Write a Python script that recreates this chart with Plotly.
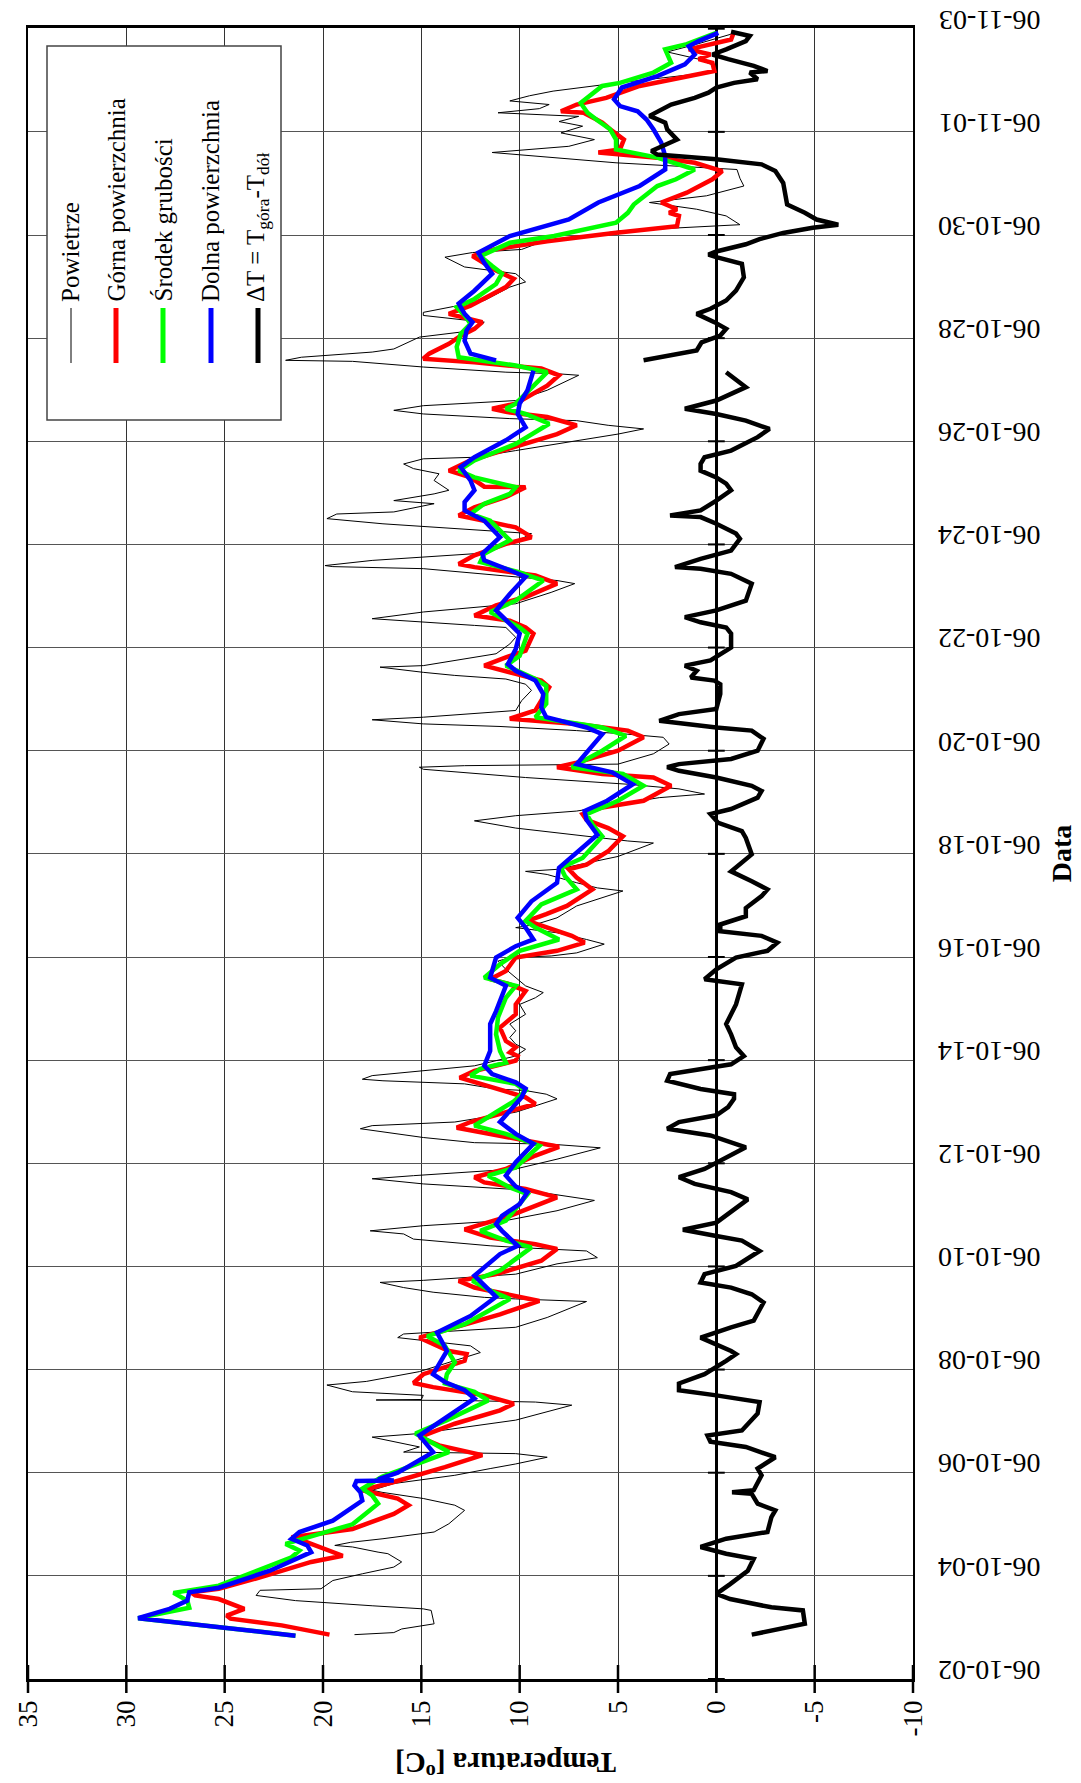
import pandas as pd
import plotly.graph_objects as go

BASE = pd.Timestamp("2006-10-02")
START_DATE = "2006-10-02"
END_DATE = "2006-11-03"

# ---- data (day offset from 2006-10-02 00:00, temperature in C) ----
air_days = [0.86, 0.9, 0.97, 1.07, 1.33, 1.36, 1.42, 1.52, 1.62, 1.72, 1.75, 1.91, 2.04, 2.17, 2.27, 2.43, 2.46,
            2.56, 2.59, 2.65, 2.72, 2.85, 3.01, 3.27, 3.37, 3.5, 3.62, 3.66, 3.79, 3.95, 4.08, 4.17, 4.3, 4.37,
            4.4, 4.5, 4.69, 4.76, 5.02, 5.21, 5.31, 5.37, 5.4, 5.41, 5.42, 5.5, 5.57, 5.7, 5.77, 5.96, 6.3, 6.33,
            6.46, 6.56, 6.62, 6.69, 6.82, 7.01, 7.32, 7.37, 7.4, 7.5, 7.59, 7.69, 7.73, 7.85, 8.05, 8.17, 8.3,
            8.37, 8.4, 8.53, 8.63, 8.69, 8.79, 8.89, 9.08, 9.28, 9.48, 9.6, 9.7, 9.76, 9.89, 10.08, 10.3, 10.37,
            10.4, 10.5, 10.67, 10.73, 10.8, 10.99, 11.25, 11.34, 11.41, 11.44, 11.54, 11.6, 11.63, 11.7, 11.79,
            11.89, 11.99, 12.08, 12.21, 12.31, 12.44, 12.57, 12.7, 12.89, 13.08, 13.21, 13.31, 13.44, 13.76,
            13.92, 13.99, 14.02, 14.08, 14.25, 14.34, 14.47, 14.57, 14.63, 14.76, 14.99, 15.28, 15.34, 15.44,
            15.6, 15.66, 15.7, 15.95, 16.21, 16.25, 16.5, 16.64, 16.74, 16.83, 17.0, 17.09, 17.16, 17.26, 17.35,
            17.48, 17.64, 17.68, 17.71, 17.74, 17.94, 18.13, 18.26, 18.32, 18.39, 18.47, 18.52, 18.6, 18.65,
            18.78, 18.97, 19.17, 19.29, 19.39, 19.46, 19.52, 19.62, 19.65, 19.88, 20.07, 20.2, 20.39, 20.43,
            20.49, 20.56, 20.69, 20.85, 21.07, 21.24, 21.3, 21.37, 21.53, 21.57, 21.59, 21.69, 21.82, 22.05,
            22.21, 22.4, 22.5, 22.59, 22.63, 22.79, 22.85, 22.98, 23.05, 23.24, 23.37, 23.47, 23.56, 23.66,
            23.69, 23.82, 23.95, 24.14, 24.24, 24.31, 24.4, 24.44, 24.53, 24.6, 24.69, 24.79, 24.99, 25.28,
            25.31, 25.34, 25.44, 25.55, 25.57, 25.63, 25.73, 25.79, 26.02, 26.15, 26.31, 26.44, 26.5, 26.73,
            26.99, 27.09, 27.25, 27.38, 27.57, 27.66, 27.72, 27.85, 28.08, 28.2, 28.37, 28.5, 28.63, 28.76,
            28.95, 29.1, 29.27, 29.4, 29.6, 29.63, 29.72, 29.85, 29.98, 30.11, 30.2, 30.3, 30.37, 30.45, 30.53,
            30.6, 30.7, 30.79, 30.95, 31.1, 31.18, 31.3, 31.41, 31.55, 31.7, 31.9]
air_temp = [18.4, 16.4, 16.0, 14.35, 14.5, 14.9, 17.5, 21.4, 23.4, 23.2, 20.1, 19.5, 18.0, 16.4, 16.0, 16.7, 17.2,
            18.5, 19.4, 18.6, 16.95, 14.35, 13.6, 12.8, 13.3, 14.9, 17.0, 17.5, 16.4, 13.3, 11.5, 10.2, 8.6, 10.2,
            15.9, 15.1, 17.5, 15.1, 10.2, 8.4, 7.35, 9.2, 12.9, 17.3, 15.0, 14.9, 18.5, 19.8, 17.8, 15.1, 12.3, 12.0,
            12.5, 14.9, 16.2, 15.9, 10.2, 8.6, 6.6, 10.2, 11.8, 14.4, 15.9, 17.1, 14.9, 10.2, 8.1, 6.05, 6.6,
            10.2, 11.5, 15.4, 15.9, 17.6, 14.9, 10.7, 8.1, 6.2, 9.7, 14.9, 17.5, 15.4, 10.2, 8.1, 5.9, 8.4,
            12.3, 14.9, 18.1, 17.5, 13.3, 10.2, 8.1, 8.65, 9.7, 11.2, 12.8, 16.95, 18.0, 17.5, 14.9,
            12.3, 11.2, 10.2, 9.7, 10.2, 10.5, 10.2, 10.5, 9.7, 10.0, 9.2, 8.8, 9.7, 10.7,
            11.1, 10.5, 8.4, 7.1, 5.7, 6.6, 8.1, 10.2, 9.2, 8.1, 7.1, 4.75, 6.05, 7.1,
            8.6, 9.7, 8.1, 5.0, 3.2, 4.5, 10.2, 12.3, 10.2, 7.1, 4.5, 2.9, 0.6, 1.9, 4.5,
            9.7, 14.9, 15.1, 12.8, 5.0, 3.2, 2.4, 2.7, 4.5, 7.1, 11.0, 14.9, 17.5, 14.9,
            10.2, 9.9, 9.4, 9.7, 10.7, 13.3, 14.9, 17.1, 14.9, 11.2, 10.5, 10.2, 10.7, 12.3,
            14.9, 17.5, 14.9, 10.2, 8.4, 7.2, 8.1, 10.2, 14.9, 19.5, 19.9, 17.5, 12.3, 10.2,
            9.4, 16.95, 19.8, 19.3, 16.4, 14.35, 16.4, 14.35, 13.6, 14.35, 14.1, 15.4, 15.9, 14.9,
            12.3, 10.2, 8.1, 5.0, 3.7, 5.5, 7.1, 10.5, 14.9, 16.4, 14.9, 10.2, 8.6, 7.0,
            8.1, 10.7, 14.9, 18.5, 21.9, 21.1, 17.5, 16.4, 15.1, 12.3, 11.8, 14.9, 14.9, 11.8,
            10.5, 9.7, 10.2, 12.8, 13.8, 12.4, 9.9, 9.0, 4.9, -1.2, -0.5, 1.0, 3.4, 0.5,
            -1.4, -1.2, -1.05, 5.1, 11.4, 10.5, 7.5, 6.2, 7.9, 6.8, 8.0, 7.0, 11.1, 9.0, 8.5,
            10.5, 9.5, 8.3, 5.0, 1.5, 0.1, 0.2, 0.9, 2.5, 1.0, -0.8]

top_days = [0.86, 1.04, 1.17, 1.23, 1.36, 1.46, 1.55, 1.62, 1.68, 1.75, 1.97, 2.27, 2.39, 2.65, 2.75, 2.91, 3.2,
            3.37, 3.5, 3.66, 3.82, 4.11, 4.34, 4.53, 4.69, 4.95, 5.21, 5.34, 5.5, 5.66, 5.74, 5.91, 6.17, 6.3,
            6.36, 6.62, 6.82, 7.07, 7.33, 7.43, 7.59, 7.72, 7.85, 8.11, 8.34, 8.43, 8.56, 8.72, 8.98, 9.34, 9.5,
            9.63, 9.73, 9.89, 10.15, 10.32, 10.44, 10.57, 10.69, 10.8, 11.02, 11.15, 11.28, 11.44, 11.66, 11.79,
            11.99, 12.08, 12.15, 12.25, 12.37, 12.63, 12.89, 13.08, 13.34, 13.47, 13.57, 13.73, 13.99, 14.12,
            14.28, 14.41, 14.63, 14.7, 14.83, 14.99, 15.31, 15.54, 15.7, 15.79, 16.05, 16.34, 16.5, 16.66,
            16.77, 16.9, 17.03, 17.32, 17.48, 17.55, 17.68, 17.77, 18.0, 18.26, 18.39, 18.52, 18.62, 18.78,
            19.23, 19.36, 19.49, 19.65, 19.81, 19.94, 20.27, 20.39, 20.52, 20.62, 20.82, 20.98, 21.24, 21.4,
            21.56, 21.62, 21.79, 22.01, 22.14, 22.33, 22.46, 22.56, 22.72, 22.92, 23.11, 23.12, 23.3, 23.43,
            23.63, 23.89, 24.14, 24.31, 24.47, 24.57, 24.63, 24.73, 25.08, 25.28, 25.41, 25.53, 25.6, 25.7,
            25.89, 26.02, 26.18, 26.31, 26.37, 26.47, 26.63, 26.99, 27.15, 27.31, 27.5, 27.59, 27.72, 27.88,
            28.04, 28.17, 28.37, 28.43, 28.5, 28.63, 28.82, 29.08, 29.24, 29.4, 29.5, 29.6, 29.66, 29.85,
            30.05, 30.18, 30.37, 30.4, 30.53, 30.66, 30.89, 31.05, 31.18, 31.34, 31.41, 31.5, 31.6, 31.79,
            31.94]
top_temp = [19.67, 22.1, 24.7, 24.9, 24.0, 24.7, 25.3, 26.5, 26.7, 25.3, 23.2, 20.6, 19.0, 20.8, 21.6, 18.5, 16.4,
            15.65, 16.2, 18.0, 16.4, 13.8, 11.9, 14.1, 15.1, 13.3, 11.0, 10.3, 11.8, 14.4, 15.4, 14.9, 12.8, 12.7,
            13.6, 15.1, 13.3, 11.0, 9.0, 10.2, 12.3, 13.1, 11.2, 8.9, 8.1, 9.2, 11.5, 12.8, 10.5, 8.1, 9.7,
            11.8, 12.3, 10.7, 9.2, 8.0, 9.7, 11.8, 13.2, 12.5, 10.5, 9.2, 9.7, 11.2, 13.05, 12.3,
            10.2, 10.1, 10.5, 10.2, 10.7, 11.0, 10.2, 10.2, 9.7, 10.5, 11.5, 10.7, 10.2, 8.1,
            6.7, 7.35, 9.2, 9.6, 8.65, 7.6, 6.3, 7.1, 7.5, 6.6, 5.5, 4.75, 5.5, 6.6,
            6.8, 5.8, 3.7, 2.3, 3.2, 5.8, 8.1, 7.1, 5.0, 3.7, 4.5, 7.1, 10.5, 9.2,
            8.5, 8.9, 10.2, 11.8, 10.7, 9.7, 9.3, 9.7, 10.5, 12.3, 11.2, 9.7, 8.1, 9.2,
            12.3, 13.1, 12.3, 10.7, 9.4, 10.2, 11.8, 13.1, 12.3, 10.7, 9.7, 11.8, 12.5, 13.6,
            12.5, 10.2, 8.1, 7.1, 8.6, 10.7, 11.4, 10.2, 8.6, 8.0, 8.9, 12.3, 14.9, 14.6,
            13.6, 13.1, 12.3, 11.9, 12.5, 13.6, 12.5, 10.7, 10.3, 11.2, 12.0, 12.4, 11.3, 8.6,
            5.2, 2.0, 1.9, 2.4, 2.0, 2.8, 1.5, 0.2, -0.3, 1.1, 3.0, 6.0, 4.9, 4.7,
            5.4, 5.8, 6.75, 7.9, 7.1, 5.6, 3.9, 1.9, 0.1, 0.2, 0.9, 0.3, 1.4, -0.75,
            -0.9]

mid_days = [0.84, 1.18, 1.38, 1.52, 1.67, 1.81, 2.36, 2.49, 2.62, 2.75, 3.0, 3.4, 3.56, 3.69, 3.92, 4.4, 4.66,
            4.76, 5.02, 5.4, 5.57, 5.73, 5.91, 6.14, 6.46, 6.65, 6.88, 7.37, 7.53, 7.72, 7.92, 8.37, 8.5, 8.69,
            8.89, 9.4, 9.53, 9.76, 9.92, 10.34, 10.57, 10.73, 10.99, 11.2, 11.41, 11.54, 11.7, 11.83, 11.95,
            12.18, 12.5, 12.83, 13.21, 13.44, 13.6, 13.86, 14.12, 14.34, 14.57, 14.7, 15.02, 15.31, 15.57,
            15.73, 15.92, 16.34, 16.57, 16.77, 17.03, 17.32, 17.55, 17.68, 18.0, 18.29, 18.45, 18.65, 18.91,
            19.26, 19.39, 19.65, 19.84, 20.27, 20.39, 20.69, 20.91, 21.3, 21.46, 21.66, 21.82, 22.08, 22.46,
            22.59, 22.79, 22.98, 23.11, 23.18, 23.3, 23.43, 23.63, 23.95, 24.34, 24.53, 24.63, 24.73, 25.34,
            25.47, 25.63, 25.83, 26.08, 26.28, 26.44, 26.6, 26.76, 27.05, 27.25, 27.4, 27.59, 27.85, 27.98,
            28.24, 28.43, 28.59, 28.95, 29.08, 29.27, 29.5, 29.66, 29.85, 30.05, 30.21, 30.37, 30.56, 30.89,
            30.95, 31.15, 31.34, 31.53, 31.6, 31.7, 31.92]
mid_temp = [21.4, 29.4, 26.8, 26.9, 27.6, 25.3, 21.6, 21.2, 21.9, 20.8, 18.5, 17.2, 17.5, 18.0, 17.0, 13.6, 14.9,
            15.3, 13.7, 11.6, 12.3, 13.8, 13.7, 13.3, 13.8, 14.7, 12.8, 10.5, 11.5, 12.4, 11.0, 9.4, 10.7, 12.0,
            10.7, 9.6, 10.5, 11.6, 10.2, 9.0, 10.7, 12.3, 11.2, 10.3, 9.7, 10.2, 12.5, 12.0, 10.7,
            11.0, 11.2, 11.1, 10.7, 10.2, 11.8, 11.0, 10.0, 8.0, 9.2, 9.7, 8.9, 7.1, 7.7,
            7.9, 6.8, 5.8, 6.3, 6.6, 5.0, 3.7, 4.75, 7.35, 5.8, 4.6, 5.8, 9.2, 8.65,
            8.65, 9.2, 10.7, 10.0, 9.6, 10.0, 11.5, 10.2, 8.8, 10.0, 12.0, 11.8, 10.5, 11.5,
            12.5, 11.8, 10.5, 10.2, 11.0, 12.3, 13.1, 12.3, 10.2, 8.5, 9.7, 10.7, 10.2, 8.6,
            10.2, 13.1, 13.2, 13.0, 12.5, 12.8, 13.2, 12.3, 11.2, 10.9, 11.4, 12.0, 10.5, 8.25,
            5.1, 4.5, 4.2, 3.0, 2.05, 1.1, 3.0, 5.1, 5.1, 5.4, 6.0, 6.55, 6.9, 5.8,
            4.9, 3.2, 2.3, 2.5, 2.6, 1.5, 0.0]

bot_days = [0.84, 1.18, 1.36, 1.52, 1.68, 1.77, 2.1, 2.46, 2.59, 2.72, 2.85, 3.07, 3.46, 3.62, 3.75, 3.84, 3.85,
            3.87, 4.0, 4.4, 4.72, 5.05, 5.44, 5.6, 5.76, 5.91, 6.36, 6.72, 7.04, 7.41, 7.66, 7.82, 8.24, 8.4,
            8.69, 8.82, 8.98, 9.21, 9.44, 9.55, 9.76, 10.02, 10.38, 10.57, 10.8, 11.02, 11.28, 11.45, 11.57,
            11.73, 11.89, 12.18, 12.7, 12.95, 13.44, 13.6, 13.99, 14.21, 14.34, 14.57, 14.76, 15.08, 15.44,
            15.73, 15.95, 16.37, 16.66, 16.83, 17.03, 17.35, 17.58, 17.74, 18.32, 18.45, 18.65, 18.84, 19.1,
            19.36, 19.55, 19.68, 19.97, 20.27, 20.46, 20.72, 21.04, 21.37, 21.5, 21.69, 21.82, 22.14, 22.46,
            22.66, 22.82, 23.05, 23.24, 23.5, 23.69, 24.02, 24.27, 24.53, 24.73, 24.99, 25.37, 25.47, 25.57,
            25.7, 25.95, 26.15, 26.31, 26.47, 26.67, 26.92, 27.25, 27.46, 27.66, 27.98, 28.3, 28.63, 28.95,
            29.27, 29.53, 29.79, 30.05, 30.24, 30.4, 30.5, 30.63, 30.86, 31.08, 31.31, 31.5, 31.66, 31.76,
            31.92]
bot_temp = [21.4, 29.4, 27.8, 26.9, 26.8, 25.3, 22.7, 20.6, 20.8, 21.6, 21.2, 19.5, 18.0, 18.1, 18.4, 18.3, 16.4,
            17.2, 16.2, 14.4, 15.1, 13.8, 12.3, 12.8, 13.8, 14.4, 13.7, 14.2, 12.5, 11.2, 11.9, 12.3, 11.0, 10.1,
            10.9, 11.2, 10.9, 10.0, 9.6, 10.2, 10.7, 10.2, 9.3, 10.2, 11.0, 10.5, 9.9, 9.7, 10.2,
            11.4, 11.8, 11.5, 11.5, 11.2, 10.7, 11.5, 11.2, 10.2, 9.3, 9.7, 10.1, 9.4, 8.1,
            8.0, 7.35, 6.05, 6.6, 6.7, 5.55, 4.25, 5.3, 7.1, 5.8, 6.6, 8.65, 8.9, 8.8,
            9.2, 10.2, 10.6, 10.2, 10.0, 10.5, 11.2, 10.5, 9.7, 10.5, 11.8, 11.9, 11.0, 11.8,
            12.8, 12.8, 12.3, 12.5, 13.0, 12.3, 10.7, 9.7, 10.1, 10.0, 9.6, 9.3, None, 11.2,
            12.5, 12.8, 12.7, 12.4, 12.8, 13.1, 12.3, 11.4, 11.8, 12.1, 10.5, 7.5, 6.0, 3.9,
            2.6, 2.6, 2.8, 3.2, 3.55, 4.0, 4.9, 5.2, 4.8, 3.0, 1.6, 1.1, 1.4, 0.9,
            -0.1]

dt_days = [0.86, 1.07, 1.33, 1.39, 1.55, 1.65, 1.84, 2.1, 2.33, 2.43, 2.56, 2.72, 2.85, 3.14, 3.27, 3.4, 3.59,
           3.62, 3.66, 3.79, 3.95, 4.08, 4.3, 4.5, 4.6, 4.72, 4.82, 5.15, 5.37, 5.5, 5.6, 5.73, 5.91, 6.17, 6.3,
           6.36, 6.49, 6.62, 6.82, 6.95, 7.3, 7.46, 7.59, 7.69, 7.85, 8.01, 8.3, 8.5, 8.59, 8.71, 8.85, 9.3,
           9.44, 9.6, 9.73, 9.89, 10.31, 10.54, 10.67, 10.8, 10.93, 11.09, 11.25, 11.34, 11.44, 11.6, 11.73,
           11.83, 11.92, 12.08, 12.25, 12.5, 12.7, 13.08, 13.47, 13.57, 13.76, 13.99, 14.12, 14.28, 14.41,
           14.5, 14.63, 14.79, 14.95, 15.18, 15.31, 15.47, 15.66, 15.99, 16.31, 16.44, 16.6, 16.77, 16.87,
           17.09, 17.22, 17.32, 17.48, 17.61, 17.68, 17.74, 17.84, 18.0, 18.23, 18.39, 18.45, 18.58, 18.71,
           18.81, 19.1, 19.29, 19.36, 19.42, 19.55, 19.65, 19.75, 19.94, 20.0, 20.27, 20.39, 20.49, 20.59,
           20.72, 20.91, 21.24, 21.43, 21.53, 21.56, 21.72, 21.88, 22.11, 22.21, 22.4, 22.53, 22.56, 22.66,
           22.85, 23.05, 23.18, 23.3, 23.43, 23.56, 23.69, 23.82, 24.08, 24.24, 24.4, 24.53, 24.63, 24.79,
           25.05, 25.28, 25.34, 25.45, 25.57, 25.7, 25.76, 25.92, 26.05, 26.18, 26.31, 26.47, 26.57, 26.73,
           26.92, 27.18, 27.44, 27.57, 27.62, 27.68, 27.82, 27.92, 28.04, 28.14, 28.2, 28.3, 28.43, 28.59,
           29.01, 29.24, 29.37, 29.47, 29.56, 29.63, 29.85, 30.05, 30.18, 30.31, 30.53, 30.66, 30.76, 30.86,
           30.95, 31.02, 31.15, 31.18, 31.28, 31.41, 31.5, 31.6, 31.76, 31.86, 31.94]
dt_temp = [-1.8, -4.5, -4.4, -2.8, -0.7, 0.0, -0.7, -1.6, -1.9, -0.5, 0.8, -0.5, -2.6, -2.8, -3.0, -2.1, -1.8,
           -0.8, -1.9, -2.1, -2.3, -2.1, -3.0, -1.5, 0.3, 0.45, -1.3, -2.1, -2.2, 0.0, 1.9, 1.9, 0.6, -0.5, -1.0,
           -0.75, 0.0, 0.8, -0.75, -1.9, -2.4, -1.8, -0.75, 0.8, 0.6, -1.0, -2.2, -1.3, 0.0, 1.7, 0.0, -1.6,
           -0.75, 1.1, 1.9, 0.6, -1.5, 0.3, 2.5, 1.9, 0.0, -0.6, -0.9, -0.9, 0.8, 2.5, 2.35,
           0.8, -0.75, -1.4, -1.0, -0.75, -0.5, -1.0, -1.3, 0.6, 0.0, -1.0, -2.6, -3.1, -2.3,
           -0.2, -0.2, -1.5, -1.5, -2.3, -2.6, -1.8, -0.75, -1.8, -1.5, -1.3, -0.1, 0.3, -0.75,
           -2.1, -2.3, -1.8, 0.0, 1.9, 2.5, 1.9, -0.75, -2.1, -2.4, -1.8, 0.0, 2.9, 1.9,
           0.0, -0.2, -0.2, 0.1, 1.3, 1.0, 1.6, 0.3, -0.5, -0.75, -0.75, -0.5, 0.8, 1.6,
           0.0, -1.5, -1.8, -0.75, 0.8, 2.1, 0.8, -0.75, -1.2, -1.0, 0.0, 0.8, 2.35, 0.8,
           0.0, -0.75, -0.5, 0.0, 0.8, 0.8, 0.6, -0.75, -2.1, -2.7, -1.5, 0.0, 1.6, 0.0,
           -1.5, -0.75, -0.5, None, 3.7, 1.9, 1.0, 0.75, -0.2, -0.5, 0.1, 1.0, 0.3, -0.5,
           -1.0, -1.4, -1.3, 0.0, 0.4, 0.0, -1.5, -2.2, -3.4, -4.9, -6.2, -5.1, -4.5, -3.6,
           -3.4, -3.0, -2.3, 0.0, 3.0, 3.3, 2.0, 2.5, 2.6, 3.4, 2.3, 1.1, 0.4, 0.0,
           -0.9, -2.1, -1.7, -2.6, -1.9, -0.6, 0.2, -0.5, -1.5, -1.7, -0.75]

temp_ticks = [35, 30, 25, 20, 15, 10, 5, 0, -5, -10]
date_ticks = pd.date_range(START_DATE, END_DATE, freq="2D")

legend_names = ["Powietrze", "Górna powierzchnia", "Środek grubości", "Dolna powierzchnia",
                "ΔT = T<sub>góra</sub>-T<sub>dół</sub>"]
legend_colors = ["black", "#ff0000", "#00ff00", "#0000ff", "black"]
legend_widths = [1, 5, 5, 5, 5]

FONT = "Liberation Serif, Times New Roman, serif"


def to_time(days):
    return [BASE + pd.Timedelta(days=d) for d in days]


fig = go.Figure()
fig.add_trace(go.Scatter(x=air_temp, y=to_time(air_days), mode="lines",
                         line=dict(color="black", width=1)))
fig.add_trace(go.Scatter(x=top_temp, y=to_time(top_days), mode="lines",
                         line=dict(color="#ff0000", width=4.5)))
fig.add_trace(go.Scatter(x=mid_temp, y=to_time(mid_days), mode="lines",
                         line=dict(color="#00ff00", width=4.5)))
fig.add_trace(go.Scatter(x=bot_temp, y=to_time(bot_days), mode="lines",
                         line=dict(color="#0000ff", width=4.5)))
fig.add_trace(go.Scatter(x=dt_temp, y=to_time(dt_days), mode="lines",
                         line=dict(color="black", width=4.5)))

# cross ticks on the temperature axis line
fig.add_trace(go.Scatter(x=temp_ticks, y=[pd.Timestamp(START_DATE)] * len(temp_ticks), mode="markers",
                         marker=dict(symbol="line-ns", size=20, line=dict(color="black", width=2.5)),
                         cliponaxis=False))
# ticks on the zero line
fig.add_trace(go.Scatter(x=[0] * len(date_ticks), y=list(date_ticks), mode="markers",
                         marker=dict(symbol="line-ew", size=12, line=dict(color="black", width=2)),
                         cliponaxis=False))

L, R, T, B = 20, 905, 20, 1671


def px(xr):
    return (xr - L) / (R - L)


def py(yr):
    return (B - yr) / (B - T)


shapes = [dict(type="rect", xref="paper", yref="paper", x0=px(39), x1=px(273), y0=py(412), y1=py(38),
               fillcolor="white", line=dict(color="#444", width=1.5), layer="above")]
annotations = []
legend_x = [63, 108, 155, 203, 250]
for i, (name, col, w) in enumerate(zip(legend_names, legend_colors, legend_widths)):
    shapes.append(dict(type="line", xref="paper", yref="paper", x0=px(legend_x[i]), x1=px(legend_x[i]),
                       y0=py(355), y1=py(300), line=dict(color=col, width=w), layer="above"))
    annotations.append(dict(text=name, xref="paper", yref="paper", x=px(legend_x[i]), y=py(296),
                            xanchor="center", yanchor="bottom", textangle=-90, showarrow=False,
                            font=dict(family=FONT, size=25, color="black")))

annotations.append(dict(text="<b>Temperatura [<sup>o</sup>C]</b>", xref="paper", yref="paper",
                        x=px(498), y=py(1757), xanchor="center", yanchor="middle", textangle=180,
                        showarrow=False, font=dict(family=FONT, size=29, color="black")))

fig.update_layout(
    width=1081, height=1783,
    margin=dict(l=L, r=1081 - R, t=T, b=1783 - B, autoexpand=False),
    paper_bgcolor="white", plot_bgcolor="white",
    showlegend=False,
    font=dict(family=FONT, color="black"),
    shapes=shapes, annotations=annotations,
    xaxis=dict(range=[35, -10], tickmode="array", tickvals=temp_ticks,
               ticktext=[str(t) for t in temp_ticks], tickangle=-90,
               tickfont=dict(family=FONT, size=27, color="black"),
               showgrid=True, gridcolor="#333", gridwidth=1,
               zeroline=True, zerolinecolor="black", zerolinewidth=2.5,
               showline=True, linecolor="black", linewidth=2.5, mirror=True,
               ticks="", ticklabelstandoff=8, automargin=False),
    yaxis=dict(type="date", side="right", range=[START_DATE, "2006-11-03 00:20"],
               tickmode="array", tickvals=list(date_ticks),
               ticktext=[d.strftime("%y-%m-%d") for d in date_ticks], tickangle=180,
               tickfont=dict(family=FONT, size=28, color="black"),
               showgrid=True, gridcolor="#555", gridwidth=1,
               zeroline=False, ticklabeloverflow="allow",
               showline=True, linecolor="black", linewidth=2, mirror=True,
               ticks="", ticklabelstandoff=120, automargin=False,
               title=dict(text="<b>Data</b>", font=dict(family=FONT, size=28, color="black"),
                          standoff=12)),
)

fig.write_html("out.html")
